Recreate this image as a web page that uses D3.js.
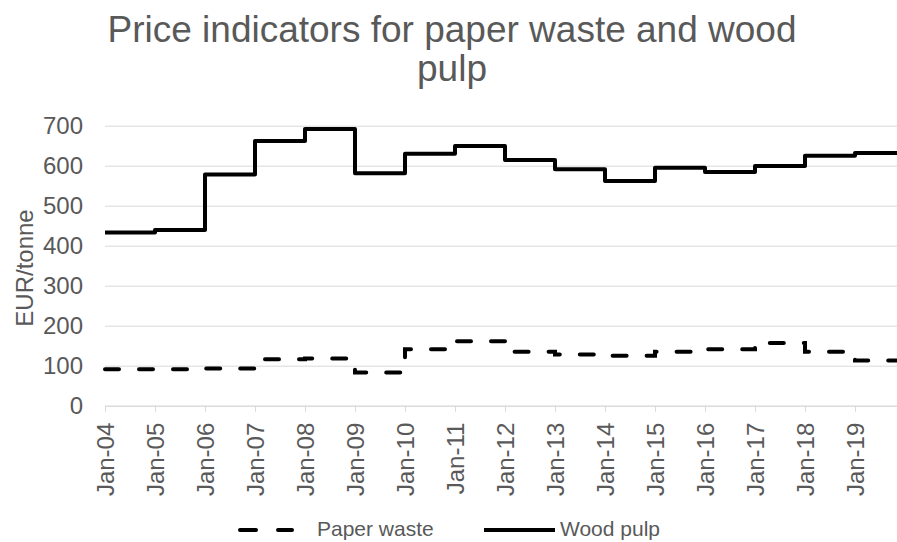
<!DOCTYPE html>
<html>
<head>
<meta charset="utf-8">
<script src="https://cdn.jsdelivr.net/npm/d3@7"></script>
<style>
  html, body { margin: 0; padding: 0; background: #fff; }
  svg { display: block; font-family: "Liberation Sans", Arial, sans-serif; }
</style>
</head>
<body>
<svg id="chart" width="897" height="542"></svg>
<script>
// Annual price indicators, EUR per tonne (value holds from January of each year)
const years = [2004, 2005, 2006, 2007, 2008, 2009, 2010, 2011, 2012, 2013, 2014, 2015, 2016, 2017, 2018, 2019];
const tickLabels = ["Jan-04", "Jan-05", "Jan-06", "Jan-07", "Jan-08", "Jan-09", "Jan-10", "Jan-11",
                    "Jan-12", "Jan-13", "Jan-14", "Jan-15", "Jan-16", "Jan-17", "Jan-18", "Jan-19"];
const paperWaste = [91, 91, 93, 116, 118, 83, 141, 161, 135, 128, 125, 135, 141, 157, 135, 113];
const woodPulp = [433, 439, 578, 662, 692, 581, 630, 649, 614, 591, 562, 595, 584, 599, 625, 632];
const yTicks = [0, 100, 200, 300, 400, 500, 600, 700];
const seriesNames = ["Paper waste", "Wood pulp"];

const svg = d3.select("#chart");
const textColor = "#595959";
const gridColor = "#d9d9d9";

const x = d3.scaleLinear().domain([2004, 2020]).range([105, 905]);
const y = d3.scaleLinear().domain([0, 700]).range([405.7, 125.7]);

// Title
const title = svg.append("text")
  .attr("text-anchor", "middle")
  .attr("fill", textColor)
  .style("font-size", "37px");
title.append("tspan").attr("x", 452).attr("y", 42).text("Price indicators for paper waste and wood");
title.append("tspan").attr("x", 452).attr("y", 81).text("pulp");

// Horizontal gridlines and value labels
const yAxis = svg.append("g")
  .attr("transform", `translate(${x.range()[0]},0)`)
  .call(d3.axisLeft(y).tickValues(yTicks).tickSize(-(x.range()[1] - x.range()[0])).tickPadding(22));
yAxis.select(".domain").remove();
yAxis.selectAll(".tick line").attr("stroke", gridColor).attr("stroke-width", 1);
yAxis.selectAll(".tick text").attr("fill", textColor).style("font-size", "24px").attr("font-family", null);

// Time axis along zero
const xAxis = svg.append("g")
  .attr("transform", `translate(0,${y(0)})`)
  .call(d3.axisBottom(x).tickValues(years).tickFormat((d, i) => tickLabels[i]).tickSize(6).tickSizeOuter(0));
xAxis.select(".domain").attr("stroke", gridColor);
xAxis.selectAll(".tick line").attr("stroke", gridColor);
xAxis.selectAll(".tick text")
  .attr("fill", textColor)
  .attr("font-family", null)
  .style("font-size", "24px")
  .attr("text-anchor", "end")
  .attr("transform", "rotate(-90)")
  .attr("x", -17)
  .attr("y", 0)
  .attr("dy", "0.35em");

// Axis title
svg.append("text")
  .attr("transform", "translate(33,268) rotate(-90)")
  .attr("text-anchor", "middle")
  .attr("fill", textColor)
  .style("font-size", "24px")
  .text("EUR/tonne");

// Step lines
const stepLine = d3.line()
  .x(d => x(d[0]))
  .y(d => y(d[1]))
  .curve(d3.curveStepAfter);

function stepPoints(values) {
  const pts = years.map((yr, i) => [yr, values[i]]);
  pts.push([x.domain()[1], values[values.length - 1]]);
  return pts;
}

svg.append("path")
  .attr("d", stepLine(stepPoints(woodPulp)))
  .attr("fill", "none")
  .attr("stroke", "#000")
  .attr("stroke-width", 4)
  .attr("stroke-linejoin", "round");

svg.append("path")
  .attr("d", stepLine(stepPoints(paperWaste)))
  .attr("fill", "none")
  .attr("stroke", "#000")
  .attr("stroke-width", 4)
  .attr("stroke-linecap", "round")
  .attr("stroke-dasharray", "14,20");

// Legend
const legend = svg.append("g").style("font-size", "21px").attr("fill", textColor);
legend.append("line")
  .attr("x1", 240).attr("x2", 292).attr("y1", 530).attr("y2", 530)
  .attr("stroke", "#000").attr("stroke-width", 4)
  .attr("stroke-linecap", "round").attr("stroke-dasharray", "16,22");
legend.append("text").attr("x", 317).attr("y", 536).text(seriesNames[0]);
legend.append("line")
  .attr("x1", 484).attr("x2", 555).attr("y1", 530).attr("y2", 530)
  .attr("stroke", "#000").attr("stroke-width", 4);
legend.append("text").attr("x", 560).attr("y", 536).text(seriesNames[1]);
</script>
</body>
</html>
